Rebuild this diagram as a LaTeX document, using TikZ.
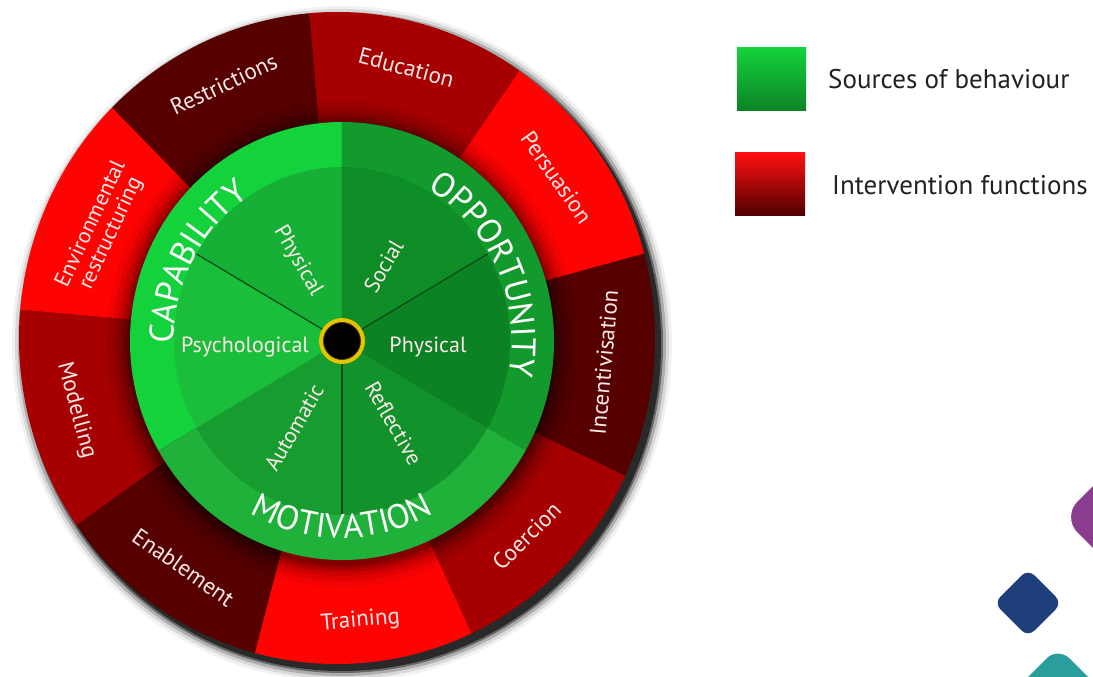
\documentclass[tikz,border=0pt]{standalone}
\usepackage{fontspec}
\setmainfont{PT Sans}
\usetikzlibrary{decorations.text}
\definecolor{rA}{HTML}{A60000}
\definecolor{rB}{HTML}{FF0303}
\definecolor{rC}{HTML}{560000}
\definecolor{gCap}{HTML}{14D23C}
\definecolor{gCapPh}{HTML}{17B036}
\definecolor{gCapPs}{HTML}{1BBE3B}
\definecolor{gOpp}{HTML}{139A2C}
\definecolor{gOppSo}{HTML}{0E8D27}
\definecolor{gOppPh}{HTML}{0C8224}
\definecolor{gMot}{HTML}{20B13A}
\definecolor{gMotAu}{HTML}{179C2F}
\definecolor{gMotRe}{HTML}{12922B}
\definecolor{sepline}{HTML}{0B4D18}
\definecolor{dotring}{HTML}{E6C300}
\definecolor{lbltext}{HTML}{FBE8E8}
\definecolor{legtext}{HTML}{222222}
\definecolor{purpleD}{HTML}{8A3D8F}
\definecolor{blueD}{HTML}{1E3F7C}
\definecolor{tealD}{HTML}{2A9E9C}
\tikzset{
  redlbl/.style={text=lbltext, font=\fontsize{23}{25}\selectfont, inner sep=0pt, align=center},
  grnlbl/.style={text=lbltext, font=\fontsize{22}{24}\selectfont, inner sep=0pt},
  leglbl/.style={text=legtext, font=\fontsize{27}{30}\selectfont, anchor=west, inner sep=0pt},
  arclbl/.style={decorate, decoration={text along path, text align=center, text color=white}}
}
\begin{document}
\begin{tikzpicture}[x=1pt,y=1pt]
\useasboundingbox (-342,-336) rectangle (751,341);
\fill[white] (-342,-336) rectangle (751,341);

% outer shadow of the wheel
\foreach \d/\o in {12/0.05, 9/0.1, 6/0.2, 3/0.4, 1/0.6}{
  \fill[black, opacity=\o] (0,-3) ellipse [x radius={318+\d}, y radius={326+\d}];
}

% intervention function sectors
\foreach \a/\c in {95/rA, 55/rB, 15/rC, -25/rA, -65/rB, -105/rC, -145/rA, -185/rB, -225/rC}{
  \fill[\c] (-5,3) -- +(\a:318 and 326) arc [start angle=\a, end angle={\a-40}, x radius=318, y radius=326] -- cycle;
}

% shadow cast by the green disc
\foreach \d/\o in {24/0.05, 18/0.07, 13/0.09, 9/0.11, 6/0.13, 3/0.16}{
  \fill[black, opacity=\o] (0,-3) ellipse [x radius={212+\d}, y radius={219+\d}];
}

% sources of behaviour: outer ring
\fill[gCap] (0,0) -- (90:212 and 219) arc [start angle=90, end angle=210, x radius=212, y radius=219] -- cycle;
\fill[gOpp] (0,0) -- (-30:212 and 219) arc [start angle=-30, end angle=90, x radius=212, y radius=219] -- cycle;
\fill[gMot] (0,0) -- (210:212 and 219) arc [start angle=210, end angle=330, x radius=212, y radius=219] -- cycle;

% components: inner disc
\fill[gCapPh] (0,0) -- (90:168 and 174) arc [start angle=90, end angle=150, x radius=168, y radius=174] -- cycle;
\fill[gCapPs] (0,0) -- (150:168 and 174) arc [start angle=150, end angle=210, x radius=168, y radius=174] -- cycle;
\fill[gMotAu] (0,0) -- (210:168 and 174) arc [start angle=210, end angle=270, x radius=168, y radius=174] -- cycle;
\fill[gMotRe] (0,0) -- (270:168 and 174) arc [start angle=270, end angle=330, x radius=168, y radius=174] -- cycle;
\fill[gOppPh] (0,0) -- (-30:168 and 174) arc [start angle=-30, end angle=30, x radius=168, y radius=174] -- cycle;
\fill[gOppSo] (0,0) -- (30:168 and 174) arc [start angle=30, end angle=90, x radius=168, y radius=174] -- cycle;

% centre hub and separators
\node[circle, fill=dotring, minimum size=46pt, inner sep=0pt] (hub) at (0,0) {};
\coordinate (s1) at (150:168 and 174);
\coordinate (s2) at (30:168 and 174);
\coordinate (s3) at (270:168 and 174);
\draw[sepline, line width=1.3pt] (hub) -- (s1);
\draw[sepline, line width=1.3pt] (hub) -- (s2);
\draw[sepline, line width=1.3pt] (hub) -- (s3);
\node[circle, fill=black, draw=black!70!dotring, line width=0.8pt, minimum size=37pt, inner sep=0pt] (core) at (0,0) {};

% curved source labels
\path[arclbl, decoration={text={|\fontsize{34}{34}\selectfont|CAPABILITY}}]
  (194:168 and 174) arc [start angle=194, end angle=110, x radius=168, y radius=174];
\path[arclbl, decoration={text={|\fontsize{34}{34}\selectfont|OPPORTUNITY}}]
  (72:170 and 176) arc [start angle=72, end angle=-23, x radius=170, y radius=176];
\path[arclbl, decoration={text={|\fontsize{34}{34}\selectfont|MOTIVATION}}]
  (225:190 and 197) arc [start angle=225, end angle=315, x radius=190, y radius=197];

% component labels
\node[grnlbl] (psy) at (-97,-6) {Psychological};
\node[grnlbl] (ophys) at (86,-6) {Physical};
\node[grnlbl, rotate=-60] (cphys) at (120:88 and 92) {Physical};
\node[grnlbl, rotate=60] (soc) at (60:83 and 86) {Social};
\node[grnlbl, rotate=60] (auto) at (240:96 and 100) {Automatic};
\node[grnlbl, rotate=-60] (refl) at (303:95 and 98) {Reflective};

% intervention labels
\path (-5,3) ++(75:268 and 280) node[redlbl, rotate=-15] (edu) {Education};
\path (-5,3) ++(35:268 and 280) node[redlbl, rotate=-55] (pers) {Persuasion};
\path (-5,3) ++(-5:268 and 280) node[redlbl, rotate=85] (inc) {Incentivisation};
\path (-5,3) ++(-45:268 and 280) node[redlbl, rotate=45] (coer) {Coercion};
\path (-5,3) ++(-85:268 and 284) node[redlbl, rotate=5] (train) {Training};
\path (-5,3) ++(-125:268 and 280) node[redlbl, rotate=-35] (enab) {Enablement};
\path (-5,3) ++(-165:270 and 280) node[redlbl, rotate=-75] (model) {Modelling};
\path (-5,3) ++(156:258 and 268) node[redlbl, rotate=65, font=\fontsize{22}{22}\selectfont] (env) {Environmental\\restructuring};
\path (-5,3) ++(115:268 and 280) node[redlbl, rotate=25] (restr) {Restrictions};

% legend
\shade[top color=gCap, bottom color=gOppPh] (395,293) rectangle (464,230);
\shade[top color=rB!95!white, bottom color=rC!90!black] (393,188) rectangle (463,125);
\node[leglbl] (legS) at (486,262) {Sources of behaviour};
\node[leglbl] (legI) at (490,156) {Intervention functions};

% decorative shapes
\fill[purpleD, rounded corners=22pt] (792,-104) -- (720,-176) -- (792,-248) -- (864,-176) -- cycle;
\fill[blueD, rounded corners=9pt] (686,-228) -- (652,-262) -- (686,-296) -- (720,-262) -- cycle;
\fill[tealD, rounded corners=16pt] (716,-306) -- (660,-362) -- (716,-418) -- (772,-362) -- cycle;
\end{tikzpicture}
\end{document}
